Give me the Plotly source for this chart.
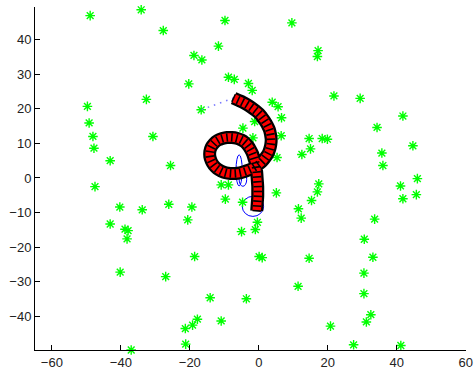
import numpy as np
import plotly.graph_objects as go

# Landmarks (green asterisks)
lm_x = [-48.9, -34.1, -27.7, -9.8, -18.8, -16.5, -11.7, -8.8, -7.1, -20.3, -32.6, -16.7,
        -49.7, -49.2, -48.1, -47.8, -30.7, -43.1, -25.6, -47.5, -10.9, -8.8,
        11.2, 9.6, 17.2, 17.0, -3.0, -1.9, 21.8, 29.4, 3.9, 5.6, 6.6, 41.8, 34.3, -4.6,
        6.5, -1.7, 14.6, 18.4, 19.9, 44.7, 12.5, 15.0, 35.7, 36.0, 5.3, 46.0, 41.1,
        17.4, 17.0, 45.7, 41.8, 5.1, 15.3, -4.7, 11.5, 12.3, 33.6, -0.4, -1.0, -5.0,
        30.6, 0.1, 1.0, 14.6, 33.1, 30.5, 11.4, 30.5, -3.6, 32.5, 31.2, 20.8, 27.5,
        41.2, -40.3, -33.8, -26.1, -19.4, -20.6, -43.1, -38.8, -37.9, -38.2, -18.6,
        -40.2, -27.0, -14.1, -17.8, -19.2, -21.3, -10.9, -21.2, -37.0, -9.7, -1.2]
lm_y = [46.9, 48.6, 42.6, 45.5, 35.4, 34.1, 38.1, 29.1, 28.5, 27.2, 22.7, 19.7,
        20.7, 15.9, 12.0, 8.6, 12.0, 5.0, 3.6, -2.5, -2.0, -2.0,
        49.5, 44.8, 36.8, 35.1, 27.3, 25.3, 23.7, 23.0, 21.9, 20.6, 17.4, 17.9, 14.6, 14.4,
        12.2, 11.6, 11.4, 11.4, 11.2, 9.3, 6.8, 8.4, 7.2, 3.6, 5.9, -0.2, -2.3,
        -1.7, -4.0, -4.8, -6.0, -4.3, -6.5, -7.0, -8.9, -11.6, -11.9, -12.8, -14.9, -15.5,
        -17.7, -22.7, -23.0, -23.2, -22.9, -27.5, -31.3, -33.4, -34.9, -39.5, -41.6, -42.8, -48.2,
        -48.4, -8.4, -9.2, -7.6, -8.4, -12.1, -13.3, -14.8, -15.2, -17.6, -22.7,
        -27.2, -28.5, -34.6, -40.8, -42.5, -43.5, -41.3, -48.0, -49.7, -6.1, 16.3]

# Vehicle path (pose estimates)
path_x = [-7.3, -6.0, -4.7, -3.4, -2.2, -1.0, 0.1, 1.0, 1.8, 2.5, 3.1, 3.4, 3.6, 3.5, 3.2,
          2.7, 1.9, 1.0, -0.1, -1.3, -2.6, -4.0,
          -5.4, -6.8, -8.2, -9.6, -10.9, -12.1, -13.1, -13.8, -14.2, -14.2, -13.8, -13.0,
          -11.9, -10.6, -9.2, -7.8, -6.4, -5.1, -4.0, -3.1, -2.4, -1.8, -1.4, -1.0, -0.8,
          -0.6, -0.5, -0.4, -0.3, -0.3, -0.3, -0.4, -0.5, -0.6]
path_y = [23.1, 22.5, 21.9, 21.2, 20.4, 19.5, 18.6, 17.5, 16.4, 15.2, 13.9, 12.6, 11.2, 9.8, 8.4,
          7.1, 5.9, 4.8, 3.9, 3.1, 2.4, 1.9,
          1.5, 1.3, 1.3, 1.5, 2.0, 2.7, 3.7, 4.9, 6.2, 7.6, 8.9, 10.0,
          10.9, 11.4, 11.7, 11.7, 11.5, 11.0, 10.3, 9.3, 8.2, 7.0, 5.7, 4.4, 3.1,
          1.7, 0.3, -1.1, -2.5, -3.9, -5.3, -6.7, -8.1, -9.5]

# Observation line (vehicle -> landmark)
obs_x = [-7.3, -16.7]
obs_y = [23.1, 19.7]

# Covariance ellipses: centre x, centre y, semi-axis x, semi-axis y
ell_cx = [-1.7, -5.7, -4.6]
ell_cy = [-8.2, 2.2, -0.4]
ell_rx = [3.1, 0.9, 1.1]
ell_ry = [2.9, 4.5, 2.0]

px = np.array(path_x)
py = np.array(path_y)
heading = np.degrees(np.arctan2(np.gradient(py), np.gradient(px)))
angles = (-heading).tolist()

fig = go.Figure()

for cx, cy, rx, ry in zip(ell_cx, ell_cy, ell_rx, ell_ry):
    fig.add_shape(type="circle", xref="x", yref="y",
                  x0=cx - rx, x1=cx + rx, y0=cy - ry, y1=cy + ry,
                  line=dict(color="blue", width=1), layer="below")

fig.add_trace(go.Scatter(
    x=lm_x, y=lm_y, mode="markers",
    marker=dict(symbol="asterisk-open", size=8, color="#00ff00",
                line=dict(color="#00ff00", width=1.4)),
    cliponaxis=False, hoverinfo="skip"))

fig.add_trace(go.Scatter(
    x=obs_x, y=obs_y, mode="lines",
    line=dict(color="rgb(120,120,255)", width=1.5, dash="1.5px,5px"),
    hoverinfo="skip"))

# vehicle outline band (black) with red fill and pose marks
fig.add_trace(go.Scatter(
    x=path_x, y=path_y, mode="lines",
    line=dict(color="black", width=13, shape="spline"),
    hoverinfo="skip"))
fig.add_trace(go.Scatter(
    x=path_x, y=path_y, mode="lines",
    line=dict(color="#ff0000", width=8.5, shape="spline"),
    hoverinfo="skip"))
fig.add_trace(go.Scatter(
    x=path_x, y=path_y, mode="markers",
    marker=dict(symbol="line-ns", size=6, color="black", angle=angles,
                line=dict(color="black", width=1.6)),
    hoverinfo="skip"))

axis_common = dict(showgrid=False, zeroline=False, showline=True, linecolor="black",
                   linewidth=1, ticks="inside", ticklen=5, tickcolor="black",
                   mirror=False, automargin=False,
                   tickfont=dict(family="Liberation Sans", size=13, color="#222222"))

fig.update_layout(
    width=474, height=375,
    margin=dict(l=35, r=8, t=7, b=25),
    paper_bgcolor="white", plot_bgcolor="white",
    showlegend=False, hovermode=False,
    xaxis=dict(range=[-64.9, 60.1], tickvals=[-60, -40, -20, 0, 20, 40, 60], **axis_common),
    yaxis=dict(range=[-49.7, 49.4], tickvals=[-40, -30, -20, -10, 0, 10, 20, 30, 40], **axis_common),
)

fig.write_html("out.html", config={"displayModeBar": False},
               post_script="document.body.style.margin='0';document.body.style.overflow='hidden';")
